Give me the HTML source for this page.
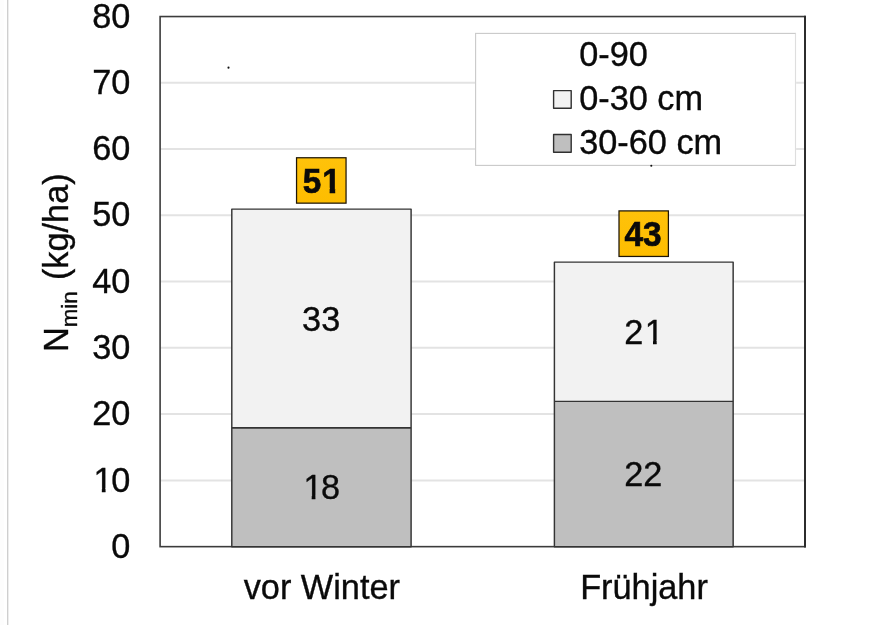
<!DOCTYPE html>
<html><head><meta charset="utf-8">
<style>
html,body{margin:0;padding:0;background:#fff;}
body{width:882px;height:625px;overflow:hidden;}
svg{display:block;}
text{font-family:"Liberation Sans",sans-serif;fill:#0a0a0a;font-size:34.3px;stroke:#0a0a0a;stroke-width:0.35px;}
</style></head><body>
<svg width="882" height="625" viewBox="0 0 882 625">
<defs>
<linearGradient id="yg" x1="0" y1="0" x2="0" y2="1">
<stop offset="0" stop-color="#ffc20a"/><stop offset="1" stop-color="#fdbd00"/>
</linearGradient>
<clipPath id="k51b"><rect x="-2" y="-30" width="43.04" height="25.38"/><rect x="0.25" y="-4.92" width="18.02" height="6.12"/><rect x="26.92" y="-4.92" width="5.52" height="6.12"/></clipPath>
<clipPath id="k18"><rect x="-2" y="-30" width="44.15" height="26.36"/><rect x="9.70" y="-3.94" width="3.68" height="5.14"/><rect x="19.33" y="-3.94" width="18.58" height="5.14"/></clipPath>
<clipPath id="k21"><rect x="-2" y="-30" width="44.15" height="26.36"/><rect x="0.25" y="-3.94" width="18.58" height="5.14"/><rect x="28.78" y="-3.94" width="3.68" height="5.14"/></clipPath>
<clipPath id="k10"><rect x="-2" y="-30" width="44.15" height="26.36"/><rect x="9.70" y="-3.94" width="3.68" height="5.14"/><rect x="19.33" y="-3.94" width="18.58" height="5.14"/></clipPath>
</defs>
<rect x="0" y="0" width="882" height="625" fill="#fff"/>
<rect x="0" y="0" width="4" height="625" fill="#fdfdfd"/>
<rect x="7.05" y="0" width="1.3" height="625" fill="#cdcdcd"/>
<g stroke="#e3e3e3" stroke-width="2">
<line x1="160.1" x2="805.0" y1="480.39" y2="480.39"/>
<line x1="160.1" x2="805.0" y1="414.12" y2="414.12"/>
<line x1="160.1" x2="805.0" y1="347.86" y2="347.86"/>
<line x1="160.1" x2="805.0" y1="281.60" y2="281.60"/>
<line x1="160.1" x2="805.0" y1="215.34" y2="215.34"/>
<line x1="160.1" x2="805.0" y1="149.07" y2="149.07"/>
<line x1="160.1" x2="805.0" y1="82.81" y2="82.81"/>
</g>
<rect x="160.1" y="16.55" width="644.90" height="530.10" fill="none" stroke="#3c3c3c" stroke-width="1.6"/>
<line x1="805.0" x2="805.0" y1="15.75" y2="547.4499999999999" stroke="#2c2c2c" stroke-width="2"/>
<rect x="231.8" y="209.11" width="179.30" height="218.82" fill="#f2f2f2"/>
<rect x="231.8" y="427.93" width="179.30" height="118.72" fill="#bfbfbf"/>
<line x1="231.8" x2="411.1" y1="427.93" y2="427.93" stroke="#343434" stroke-width="1.7"/>
<rect x="231.8" y="209.11" width="179.30" height="337.54" fill="none" stroke="#343434" stroke-width="1.45" stroke-linejoin="round"/>
<rect x="554.4" y="262.12" width="178.75" height="139.30" fill="#f2f2f2"/>
<rect x="554.4" y="401.42" width="178.75" height="145.23" fill="#bfbfbf"/>
<line x1="554.4" x2="733.15" y1="401.42" y2="401.42" stroke="#343434" stroke-width="1.3"/>
<rect x="554.4" y="262.12" width="178.75" height="284.53" fill="none" stroke="#343434" stroke-width="1.45" stroke-linejoin="round"/>
<rect x="475.6" y="33.4" width="319.9" height="132" fill="#fff" stroke="#c9c9c9" stroke-width="1.1"/>
<line x1="795.5" x2="795.5" y1="34.2" y2="164.8" stroke="#fff" stroke-width="1.3"/>
<line x1="795.5" x2="795.5" y1="33.4" y2="165.9" stroke="#dedede" stroke-width="1"/>
<g stroke="#303030" stroke-width="1.4" stroke-linejoin="round">
<rect x="553.6" y="90.6" width="17.6" height="17.7" fill="#f2f2f2"/>
<rect x="553.6" y="134.5" width="17.6" height="17.7" fill="#bfbfbf"/>
</g>
<text transform="translate(579.20,66.35) scale(1,1.02)">0-90</text>
<text transform="translate(579.20,110.30) scale(1,1.01)">0-30 cm</text>
<text transform="translate(579.20,154.10) scale(1,1.02)">30-60 cm</text>
<g stroke="#1e1608" stroke-width="1.25">
<rect x="296.55" y="157.75" width="49.5" height="45.4" fill="url(#yg)"/>
<rect x="619.0" y="210.9" width="49.4" height="45.55" fill="url(#yg)"/>
</g>
<text transform="translate(302.73,192.80) scale(1,1.07)" font-weight="bold" style="font-size:33.3px;stroke-width:0.65px" clip-path="url(#k51b)" dx="0.00 1.10">51</text>
<text transform="translate(624.47,245.80) scale(1,1.075)" font-weight="bold" style="font-size:33.4px;stroke-width:0.65px">43</text>
<text transform="translate(302.12,330.80) scale(1,1.01)">33</text>
<text transform="translate(302.02,499.40) scale(1,1.015)" clip-path="url(#k18)" dx="1.40 -1.40">18</text>
<text transform="translate(624.22,343.80) scale(1,1.02)" clip-path="url(#k21)" dx="0.00 1.40">21</text>
<text transform="translate(624.22,486.00) scale(1,1.015)">22</text>
<text transform="translate(111.22,558.14) scale(1,1.01)">0</text>
<text transform="translate(92.15,491.81) scale(1,1.01)" clip-path="url(#k10)" dx="1.40 -1.40">10</text>
<text transform="translate(92.15,425.48) scale(1,1.01)">20</text>
<text transform="translate(92.15,359.15) scale(1,1.01)">30</text>
<text transform="translate(92.15,292.82) scale(1,1.01)">40</text>
<text transform="translate(92.15,226.49) scale(1,1.01)">50</text>
<text transform="translate(92.15,160.16) scale(1,1.01)">60</text>
<text transform="translate(92.15,93.83) scale(1,1.01)">70</text>
<text transform="translate(92.15,27.50) scale(1,1.01)">80</text>
<text transform="translate(321.80,598.80) scale(1,1.0)" text-anchor="middle">vor Winter</text>
<text transform="translate(644.00,598.80) scale(1,1.0)" text-anchor="middle">Frühjahr</text>
<text transform="translate(68.3,352) rotate(-90) scale(1,1.0)">N<tspan font-size="22.3" dy="8.2">min</tspan><tspan dy="-8.2" dx="1.7"> (kg/ha)</tspan></text>
<circle cx="228.5" cy="67.65" r="1.05" fill="#111"/>
<circle cx="651.3" cy="165.8" r="1.05" fill="#111"/>
</svg>
</body></html>
